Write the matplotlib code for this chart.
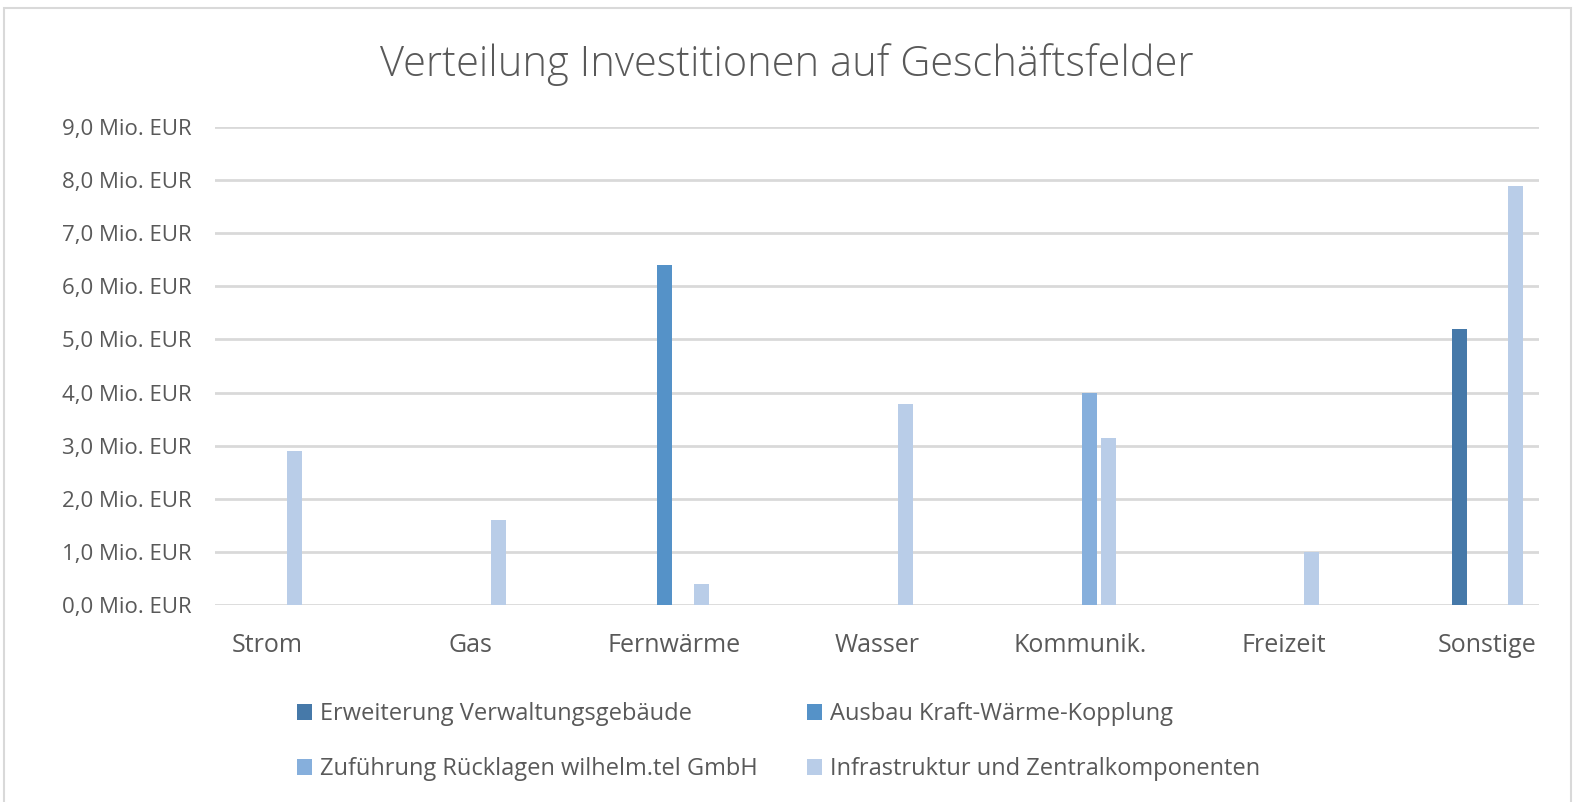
import numpy as np
import matplotlib
matplotlib.use("Agg")
import matplotlib.pyplot as plt
from matplotlib.patches import Rectangle, Patch

plt.rcParams["font.family"] = ["Open Sans", "DejaVu Sans"]

categories = ["Strom", "Gas", "Fernwärme", "Wasser", "Kommunik.", "Freizeit", "Sonstige"]
series_names = [
    "Erweiterung Verwaltungsgebäude",
    "Ausbau Kraft-Wärme-Kopplung",
    "Zuführung Rücklagen wilhelm.tel GmbH",
    "Infrastruktur und Zentralkomponenten",
]
verwaltung = [0, 0, 0, 0, 0, 0, 5.2]
kwk = [0, 0, 6.4, 0, 0, 0, 0]
ruecklagen = [0, 0, 0, 0, 4.0, 0, 0]
infrastruktur = [2.9, 1.6, 0.4, 3.78, 3.15, 1.0, 7.88]
colors = ["#4679A9", "#5592C8", "#86AFDC", "#B9CDE8"]
y_ticks = [0, 1, 2, 3, 4, 5, 6, 7, 8, 9]

text_color = "#595959"
grid_color = "#D9D9D9"

fig = plt.figure(figsize=(15.73, 8.02), dpi=100)
ax = fig.add_axes([215 / 1573, 1 - 605 / 802, 1324 / 1573, 478 / 802])

x = np.arange(len(categories))
bar_w = 0.074
step = 0.092
all_series = [verwaltung, kwk, ruecklagen, infrastruktur]
for i, vals in enumerate(all_series):
    ax.bar(x + (i - 1.5) * step, vals, width=bar_w, color=colors[i], zorder=3)

ax.set_xlim(-0.255, 6.255)
ax.set_ylim(0, 9)
ax.set_yticks(y_ticks)
ax.set_yticklabels([f"{v:.1f}".replace(".", ",") + " Mio. EUR" for v in y_ticks])
ax.set_xticks(x)
ax.set_xticklabels(categories)
ax.tick_params(axis="both", length=0, colors=text_color)
ax.tick_params(axis="y", pad=17, labelsize=16)
ax.tick_params(axis="x", pad=20, labelsize=18)
ax.grid(axis="y", color=grid_color, linewidth=2, zorder=0)
for s in ax.spines.values():
    s.set_visible(False)

fig.suptitle("Verteilung Investitionen auf Geschäftsfelder", x=0.5, y=1 - 43 / 802,
             va="top", fontsize=30, color=text_color, fontweight="light")

# legend rows: (Verwaltung, KWK), (Ruecklagen, Infrastruktur)
order = [0, 2, 1, 3]
handles = [Patch(facecolor=colors[i], edgecolor="none") for i in order]
labels = [series_names[i] for i in order]
fig.legend(handles, labels, loc="upper left", ncol=2,
           bbox_to_anchor=(297 / 1573, 1 - 702 / 802), frameon=False,
           fontsize=17, labelcolor=text_color, handlelength=0.64, handleheight=0.64,
           handletextpad=0.34, columnspacing=2.07, labelspacing=1.33, borderpad=0,
           borderaxespad=0)

fig.patches.append(Rectangle((4 / 1573, -0.01), 1567 / 1573, 1.01 - 8 / 802,
                             transform=fig.transFigure, fill=False,
                             edgecolor=grid_color, linewidth=1.5))

fig.savefig("out.png", dpi=100)
